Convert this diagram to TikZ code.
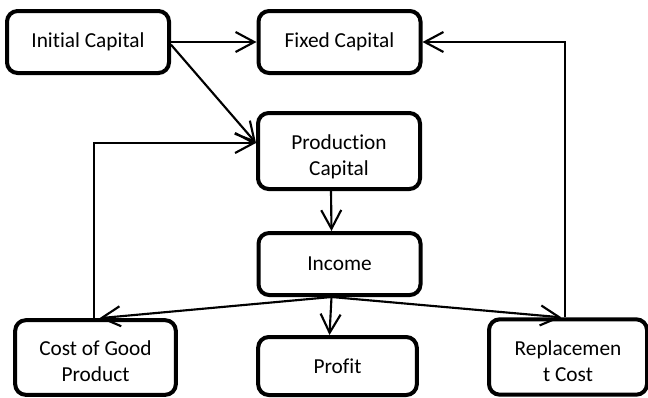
\documentclass[tikz,border=0pt]{standalone}
\usepackage{fontspec}
\setmainfont{Carlito}[RawFeature=-liga]
\usetikzlibrary{arrows.meta}
\newcommand{\twolines}[2]{\raisebox{-9pt}[0pt][0pt]{\begin{tabular}{@{}c@{}}#1\\#2\end{tabular}}}
\begin{document}
\begin{tikzpicture}[x=0.75pt,y=-0.75pt,
  box/.style={draw, line width=3pt, rounded corners=8pt, align=center,
    font=\fontsize{16}{19.5}\selectfont, inner sep=0pt},
  conn/.style={line width=1.6pt, -{Straight Barb[length=14pt,width=15pt,line width=1.6pt]}}]
\useasboundingbox (0,0) rectangle (648,397);
\node[box, minimum width=121.5pt, minimum height=46.5pt] (init) at (88,42) {Initial Capital};
\node[box, minimum width=121.5pt, minimum height=46.5pt] (fixed) at (339.5,42) {Fixed Capital};
\node[box, minimum width=121.5pt, minimum height=57pt] (prod) at (339,151) {\twolines{Production}{Capital}};
\node[box, minimum width=121.5pt, minimum height=46.5pt] (income) at (339.5,264) {Income};
\node[box, minimum width=120.5pt, minimum height=56pt] (cost) at (95.5,357.5) {\twolines{Cost of Good}{Product}};
\node[box, minimum width=119pt, minimum height=43.5pt] (profit) at (337.5,366) {Profit};
\node[box, minimum width=118.5pt, minimum height=56.5pt] (repl) at (568,357) {\twolines{Replacemen}{t Cost}};
\coordinate (io) at ([xshift=-6pt]income.south);
\draw[conn] (init.east) -- (fixed.west);
\draw[conn] ([yshift=-2pt]init.east) -- ([yshift=6pt]prod.west);
\draw[conn] ([xshift=-1pt]cost.north) |- ([yshift=6pt]prod.west);
\draw[conn] ([xshift=-6pt]prod.south) -- ([xshift=-6pt]income.north);
\draw[conn] (io) -- ([xshift=3pt]cost.north);
\draw[conn] (io) -- ([xshift=-6pt]profit.north);
\draw[conn] (io) -- ([xshift=-5pt]repl.north);
\draw[conn] ([xshift=-2pt]repl.north) |- (fixed.east);
\end{tikzpicture}
\end{document}
